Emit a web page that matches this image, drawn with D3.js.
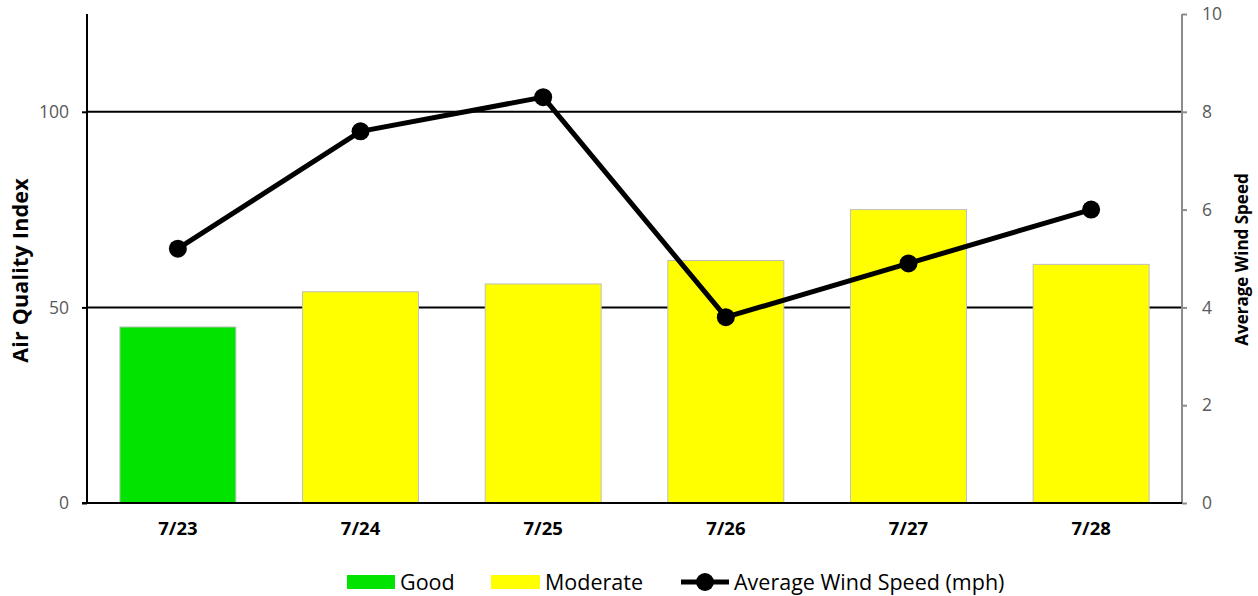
<!DOCTYPE html>
<html>
<head>
<meta charset="utf-8">
<script src="https://cdn.jsdelivr.net/npm/d3@7"></script>
<style>
  body { margin: 0; background: #fff; }
  text { font-family: "Open Sans", "Noto Sans", sans-serif; }
</style>
</head>
<body>
<div class="chart"></div>
<script>
// data
const dates = ["7/23", "7/24", "7/25", "7/26", "7/27", "7/28"];
const aqi = [45, 54, 56, 62, 75, 61];
const aqiCategory = ["Good", "Moderate", "Moderate", "Moderate", "Moderate", "Moderate"];
const windSpeed = [5.2, 7.6, 8.3, 3.8, 4.9, 6.0];
const aqiTicks = [0, 50, 100];
const windTicks = [0, 2, 4, 6, 8, 10];

const width = 1258, height = 596;
const margin = ({top: 14, right: 76, bottom: 93, left: 87});
const colors = {Good: "#00e400", Moderate: "#ffff00"};

const svg = d3.select(".chart").append("svg")
    .attr("width", width)
    .attr("height", height);

const xScale = d3.scaleBand()
    .domain(dates)
    .range([margin.left, width - margin.right])
    .paddingInner(0.365)
    .paddingOuter(0.18);
const yScale = d3.scaleLinear()
    .domain([0, 125])
    .range([height - margin.bottom, margin.top]);
const y2Scale = d3.scaleLinear()
    .domain([0, 10])
    .range([height - margin.bottom, margin.top]);

const x0 = margin.left, x1 = width - margin.right, yb = height - margin.bottom;

// gridlines
svg.append("g")
    .selectAll("line")
    .data(aqiTicks.filter(d => d > 0))
    .enter()
    .append("line")
    .attr("x1", x0).attr("x2", x1)
    .attr("y1", d => yScale(d)).attr("y2", d => yScale(d))
    .style("stroke", "#000")
    .style("stroke-width", 2);

// bars
svg.append("g")
    .selectAll("rect")
    .data(dates)
    .enter()
    .append("rect")
    .attr("x", d => xScale(d))
    .attr("width", xScale.bandwidth())
    .attr("y", (d, i) => yScale(aqi[i]))
    .attr("height", (d, i) => yb - yScale(aqi[i]))
    .style("fill", (d, i) => colors[aqiCategory[i]])
    .style("stroke", "#bfbfbf")
    .style("stroke-width", 1);

// left axis
const yAxis = d3.axisLeft(yScale).tickValues(aqiTicks).tickSize(5).tickPadding(13);
const gy = svg.append("g")
    .attr("transform", `translate(${x0},0)`)
    .call(yAxis);
gy.select(".domain").remove();
gy.append("line")
    .attr("x1", 0).attr("x2", 0)
    .attr("y1", margin.top).attr("y2", yb)
    .style("stroke", "#000").style("stroke-width", 2);
gy.selectAll(".tick line").style("stroke", "#000").style("stroke-width", 2);
gy.selectAll(".tick text")
    .style("font-size", "17.5px").style("fill", "#595959")
    .style("font-family", "'Open Sans', sans-serif");

// right axis
const y2Axis = d3.axisRight(y2Scale).tickValues(windTicks).tickSize(5).tickPadding(15);
const gy2 = svg.append("g")
    .attr("transform", `translate(${x1},0)`)
    .call(y2Axis);
gy2.select(".domain").remove();
gy2.append("line")
    .attr("x1", 0).attr("x2", 0)
    .attr("y1", margin.top).attr("y2", yb)
    .style("stroke", "#8c8c8c").style("stroke-width", 2);
gy2.selectAll(".tick line").style("stroke", "#8c8c8c").style("stroke-width", 2);
gy2.selectAll(".tick text")
    .style("font-size", "17.5px").style("fill", "#595959")
    .style("font-family", "'Open Sans', sans-serif");

// bottom axis
const xAxis = d3.axisBottom(xScale).tickSize(0).tickPadding(19);
const gx = svg.append("g")
    .attr("transform", `translate(0,${yb})`)
    .call(xAxis);
gx.select(".domain").remove();
gx.append("line")
    .attr("x1", x0 - 5).attr("x2", x1)
    .attr("y1", 0).attr("y2", 0)
    .style("stroke", "#000").style("stroke-width", 2);
gx.selectAll(".tick text")
    .style("font-size", "18.5px").style("font-weight", "bold").style("fill", "#000")
    .style("font-family", "'Open Sans', sans-serif");

// wind speed line
const line = d3.line()
    .x((d, i) => xScale(dates[i]) + xScale.bandwidth() / 2)
    .y(d => y2Scale(d));
svg.append("path")
    .datum(windSpeed)
    .attr("d", line)
    .style("fill", "none")
    .style("stroke", "#000")
    .style("stroke-width", 5)
    .style("stroke-linejoin", "round");
svg.append("g")
    .selectAll("circle")
    .data(windSpeed)
    .enter()
    .append("circle")
    .attr("cx", (d, i) => xScale(dates[i]) + xScale.bandwidth() / 2)
    .attr("cy", d => y2Scale(d))
    .attr("r", 9)
    .style("fill", "#000");

// axis titles
svg.append("text")
    .attr("transform", `translate(28,${(margin.top + yb) / 2 + 12})rotate(-90)`)
    .attr("text-anchor", "middle")
    .style("font-size", "21.5px").style("font-weight", "bold")
    .style("letter-spacing", "0.2px")
    .text("Air Quality Index");
svg.append("text")
    .attr("transform", `translate(1248,${(margin.top + yb) / 2 + 1})rotate(-90)`)
    .attr("text-anchor", "middle")
    .style("font-size", "17px").style("font-weight", "bold")
    .text("Average Wind Speed");

// legend
const ly = 582;
const legend = svg.append("g");
legend.append("rect").attr("x", 347).attr("y", ly - 7).attr("width", 48).attr("height", 14)
    .style("fill", colors.Good);
legend.append("text").attr("x", 400).attr("y", ly + 8).style("font-size", "21.5px").text("Good");
legend.append("rect").attr("x", 491).attr("y", ly - 7).attr("width", 49).attr("height", 14)
    .style("fill", colors.Moderate);
legend.append("text").attr("x", 545).attr("y", ly + 8).style("font-size", "21.5px").text("Moderate");
legend.append("line").attr("x1", 681).attr("x2", 729).attr("y1", ly).attr("y2", ly)
    .style("stroke", "#000").style("stroke-width", 5);
legend.append("circle").attr("cx", 705).attr("cy", ly).attr("r", 9).style("fill", "#000");
legend.append("text").attr("x", 734).attr("y", ly + 8).style("font-size", "21.5px")
    .text("Average Wind Speed (mph)");
</script>
</body>
</html>
